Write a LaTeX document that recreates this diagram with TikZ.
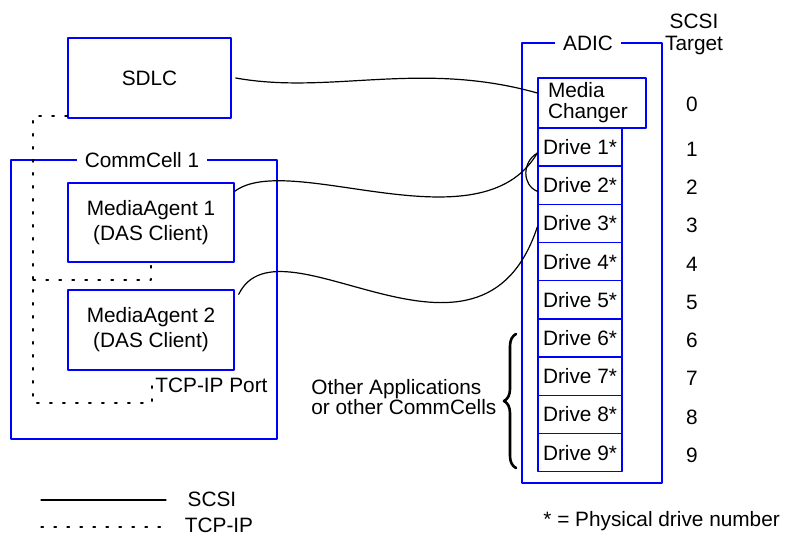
\documentclass[tikz,border=0pt]{standalone}
\usepackage{fontspec}
\setmainfont{Liberation Sans}
\usetikzlibrary{positioning}
\usetikzlibrary{decorations.pathreplacing}

\begin{document}
\begin{tikzpicture}[x=0.5pt, y=-0.5pt, line cap=round, line join=round,
  font=\fontsize{10.4}{12.5}\selectfont,
  bluebox/.style={draw=blue, line width=0.7pt, inner sep=0pt},
  drivebox/.style={bluebox, minimum width=42pt, minimum height=19.1pt},
  boxtitle/.style={fill=white, inner xsep=4pt, inner ysep=1pt},
  scsi/.style={line width=0.6pt},
  tcpip/.style={line width=0.6pt, dash pattern=on 1.2pt off 5.3pt}]

\useasboundingbox (0,0) rectangle (787,533);

% hosts
\node[bluebox, minimum width=81.5pt, minimum height=40pt] (sdlc) at (149.5,78) {SDLC};

\node[bluebox, minimum width=133pt, minimum height=139.5pt] (cell) at (144,299.5) {};
\node[boxtitle] (celltitle) at (142,160) {CommCell 1};
\node[bluebox, minimum width=83pt, minimum height=39.5pt, align=center] (ma1) at (151,222.5) {MediaAgent 1\\(DAS Client)};
\node[bluebox, minimum width=83pt, minimum height=40pt, align=center] (ma2) at (151,330) {MediaAgent 2\\(DAS Client)};
\coordinate (port) at (152,385);
\node[anchor=west, inner sep=1.5pt] (portlabel) at (port) {TCP-IP Port};

%---------------------------------------------------------------------------------------------------
% library
\node[bluebox, minimum width=70pt, minimum height=220pt] (adic) at (592,263) {};
\node[boxtitle] (adictitle) at (588,43) {ADIC};
\node[align=center, font=\fontsize{10.4}{11}\selectfont] (target) at (694,34) {SCSI\\Target};

\node[bluebox, minimum width=54pt, minimum height=25pt, text width=44pt, align=left,
      font=\fontsize{10.4}{10.5}\selectfont] (changer) at (592,103) {Media\\Changer};
\node[drivebox] (drive1) at (580,147.1) {Drive 1*};
\node[drivebox] (drive2) at (580,185.3) {Drive 2*};
\node[drivebox] (drive3) at (580,223.5) {Drive 3*};
\node[drivebox] (drive4) at (580,261.7) {Drive 4*};
\node[drivebox] (drive5) at (580,299.9) {Drive 5*};
\node[drivebox] (drive6) at (580,338.1) {Drive 6*};
\node[drivebox] (drive7) at (580,376.3) {Drive 7*};
\node[drivebox] (drive8) at (580,414.5) {Drive 8*};
\node[drivebox] (drive9) at (580,452.7) {Drive 9*};

\node (t0) at (692,104) {0};
\node (t1) at (692,149) {1};
\node (t2) at (692,187) {2};
\node (t3) at (692,225) {3};
\node (t4) at (692,264) {4};
\node (t5) at (692,302) {5};
\node (t6) at (692,340) {6};
\node (t7) at (692,378) {7};
\node (t8) at (692,417) {8};
\node (t9) at (692,455) {9};

\draw[line width=1.3pt, decorate, decoration={brace, amplitude=6pt}] (516,468) -- (516,334);
\node[anchor=west, align=left, inner sep=0pt, font=\fontsize{10.4}{10}\selectfont] (others) at (311,397) {Other Applications\\or other CommCells};

%---------------------------------------------------------------------------------------------------
% SCSI cabling
\draw[scsi] ([xshift=2pt]sdlc.east) .. controls (330,95) and (420,60) .. ([yshift=5pt]changer.west);
\draw[scsi] ([yshift=-4.5pt]ma1.north east) .. controls (290,150) and (480,250) .. ([yshift=-3pt]drive1.west);
\draw[scsi] ([yshift=-3pt]drive1.west) .. controls (522,162) and (522,185) .. ([yshift=-3pt]drive2.west);
\draw[scsi] ([xshift=2pt,yshift=-2.5pt]ma2.north east) .. controls (280,210) and (480,400) .. ([yshift=-1.75pt]drive3.west);

% TCP-IP network
\coordinate (nettop) at (33,116);
\coordinate (netbot) at (33,403);
\coordinate (netmid) at (33,280);
\draw[tcpip] (sdlc.south west |- nettop) -- (nettop) -- (netbot) -- (port |- netbot) -- (port);
\draw[tcpip] (netmid) -- (ma1.south |- netmid) -- (ma1.south);

%---------------------------------------------------------------------------------------------------
% legend
\coordinate (scsiA) at (41,500);
\coordinate (scsiB) at (166,500);
\coordinate (tcpA) at (41,527);
\coordinate (tcpB) at (166,527);
\draw[scsi] (scsiA) -- (scsiB);
\draw[tcpip] (tcpA) -- (tcpB);
\node (scsilabel) at (212,499) {SCSI};
\node (tcplabel) at (219,525) {TCP-IP};
\node[anchor=west, inner sep=0pt] (note) at (543,521) {* = Physical drive number};

\end{tikzpicture}
\end{document}
